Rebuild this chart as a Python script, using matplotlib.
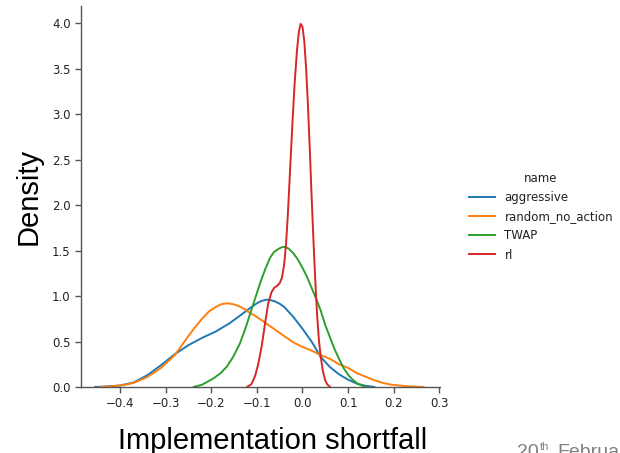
import matplotlib
matplotlib.use("Agg")
import matplotlib.pyplot as plt
from matplotlib.lines import Line2D

# Kernel density estimates of implementation shortfall per execution strategy
names = ["aggressive", "random_no_action", "TWAP", "rl"]
colors = ["#1f77b4", "#ff7f0e", "#2ca02c", "#d62728"]

aggressive_x = [-0.455, -0.43, -0.40, -0.37, -0.34, -0.31, -0.28, -0.25, -0.22, -0.19,
                -0.16, -0.13, -0.11, -0.10, -0.09, -0.08, -0.07, -0.06, -0.05, -0.04,
                -0.02, 0.00, 0.02, 0.04, 0.06, 0.08, 0.10, 0.12, 0.14, 0.158]
aggressive_y = [0.0, 0.006, 0.016, 0.05, 0.13, 0.24, 0.36, 0.46, 0.54, 0.61,
                0.70, 0.81, 0.885, 0.92, 0.945, 0.96, 0.955, 0.94, 0.915, 0.88,
                0.77, 0.64, 0.50, 0.33, 0.22, 0.14, 0.08, 0.035, 0.012, 0.0]

random_x = [-0.445, -0.42, -0.393, -0.37, -0.34, -0.31, -0.28, -0.25, -0.235, -0.22,
            -0.205, -0.19, -0.178, -0.165, -0.152, -0.14, -0.128, -0.12, -0.11, -0.10,
            -0.09, -0.08, -0.06, -0.04, -0.02, 0.00, 0.02, 0.04, 0.06, 0.08,
            0.10, 0.12, 0.14, 0.16, 0.18, 0.20, 0.23, 0.266]
random_y = [0.0, 0.006, 0.022, 0.045, 0.11, 0.21, 0.35, 0.56, 0.66, 0.75,
            0.83, 0.88, 0.91, 0.92, 0.91, 0.89, 0.86, 0.83, 0.80, 0.77,
            0.735, 0.70, 0.63, 0.56, 0.49, 0.44, 0.40, 0.35, 0.31, 0.25,
            0.21, 0.15, 0.11, 0.07, 0.04, 0.022, 0.008, 0.0]

twap_x = [-0.239, -0.22, -0.195, -0.18, -0.166, -0.152, -0.137, -0.126, -0.115, -0.104,
          -0.093, -0.082, -0.071, -0.063, -0.055, -0.048, -0.042, -0.036, -0.03, -0.02,
          -0.01, 0.00, 0.01, 0.02, 0.03, 0.04, 0.05, 0.06, 0.07, 0.08,
          0.09, 0.10, 0.11, 0.12, 0.13, 0.141]
twap_y = [0.0, 0.025, 0.095, 0.15, 0.223, 0.33, 0.48, 0.63, 0.80, 0.97,
          1.14, 1.29, 1.42, 1.48, 1.51, 1.53, 1.54, 1.535, 1.52, 1.47,
          1.40, 1.31, 1.21, 1.09, 0.97, 0.84, 0.68, 0.55, 0.42, 0.31,
          0.21, 0.135, 0.08, 0.04, 0.015, 0.0]

rl_x = [-0.122, -0.112, -0.104, -0.097, -0.089, -0.082, -0.075, -0.068, -0.062, -0.056,
        -0.050, -0.045, -0.040, -0.036, -0.032, -0.027, -0.022, -0.017, -0.012, -0.008,
        -0.004, 0.000, 0.004, 0.008, 0.012, 0.016, 0.020, 0.024, 0.028, 0.032,
        0.036, 0.040, 0.045, 0.050, 0.055, 0.061]
rl_y = [0.0, 0.03, 0.12, 0.25, 0.46, 0.70, 0.92, 1.04, 1.09, 1.11,
        1.14, 1.20, 1.35, 1.57, 1.90, 2.40, 2.90, 3.35, 3.70, 3.90,
        3.99, 3.96, 3.80, 3.50, 3.10, 2.62, 2.10, 1.62, 1.18, 0.80,
        0.52, 0.33, 0.17, 0.07, 0.025, 0.0]

series_x = [aggressive_x, random_x, twap_x, rl_x]
series_y = [aggressive_y, random_y, twap_y, rl_y]

x_ticks = [-0.4, -0.3, -0.2, -0.1, 0.0, 0.1, 0.2, 0.3]
x_tick_labels = ["\u22120.4", "\u22120.3", "\u22120.2", "\u22120.1", "0.0", "0.1", "0.2", "0.3"]
y_ticks = [0.0, 0.5, 1.0, 1.5, 2.0, 2.5, 3.0, 3.5, 4.0]
y_tick_labels = ["0.0", "0.5", "1.0", "1.5", "2.0", "2.5", "3.0", "3.5", "4.0"]

W, H = 620, 453
fig = plt.figure(figsize=(W / 100, H / 100), dpi=100)
fig.patch.set_facecolor("white")

ax = fig.add_axes([81 / W, 1 - 387 / H, (440 - 81) / W, (387 - 6) / H])
for xs, ys, c in zip(series_x, series_y, colors):
    ax.plot(xs, ys, color=c, lw=1.4, solid_joinstyle="round", solid_capstyle="round")

ax.set_xlim(-0.4855, 0.3015)
ax.set_ylim(0, 4.187)
ax.set_xticks(x_ticks)
ax.set_xticklabels(x_tick_labels)
ax.set_yticks(y_ticks)
ax.set_yticklabels(y_tick_labels)
ax.tick_params(labelsize=8.5, labelcolor="#222222", color="#555555", length=4, width=1.0)
for side in ("top", "right"):
    ax.spines[side].set_visible(False)
for side in ("left", "bottom"):
    ax.spines[side].set_color("#555555")
    ax.spines[side].set_linewidth(1.0)

handles = [Line2D([], [], color=c, lw=1.4) for c in colors]
leg = fig.legend(handles, names, title="name", loc="upper left",
                 bbox_to_anchor=(469 / W, 1 - 172 / H), frameon=False,
                 fontsize=8.5, title_fontsize=8.5, borderaxespad=0, borderpad=0,
                 handlelength=2.2, handletextpad=0.8, labelspacing=0.52)
for t in leg.get_texts():
    t.set_color("#222222")
leg.get_title().set_color("#222222")

big = ["Liberation Sans", "DejaVu Sans"]
fig.text(28.5 / W, 1 - 196 / H, "Density", rotation=90, ha="center", va="center",
         fontsize=21, family=big, color="black")
fig.text(272.5 / W, 1 - 449 / H, "Implementation shortfall", ha="center", va="baseline",
         fontsize=21, family=big, color="black")

# footer date, partly running off the right edge
fig.text(517 / W, 1 - 457 / H, "20", ha="left", va="baseline", fontsize=14,
         family=big, color="#808080")
fig.text(540 / W, 1 - 450 / H, "th", ha="left", va="baseline", fontsize=8,
         family=big, color="#808080")
fig.text(557 / W, 1 - 457 / H, "February", ha="left", va="baseline", fontsize=14,
         family=big, color="#808080")

fig.savefig("out.png", dpi=100)
